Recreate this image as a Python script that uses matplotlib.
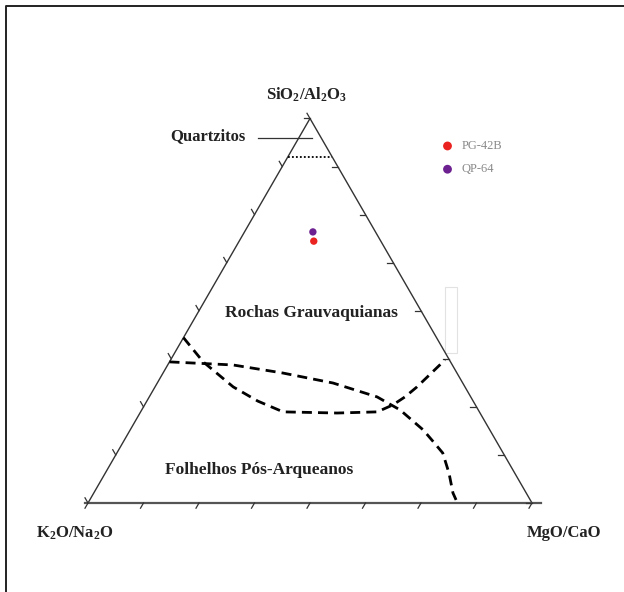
import numpy as np
import matplotlib.pyplot as plt
from matplotlib.lines import Line2D
from matplotlib.patches import Rectangle

plt.rcParams['font.family'] = ['Liberation Serif', 'DejaVu Serif']
plt.rcParams['mathtext.fontset'] = 'custom'
plt.rcParams['mathtext.rm'] = 'Liberation Serif:bold'
plt.rcParams['mathtext.default'] = 'rm'

# Samples (fractions of the top apex SiO2/Al2O3 and right apex MgO/CaO)
samples = ['PG-42B', 'QP-64']
sio2_al2o3 = [0.681, 0.705]
mgo_cao = [0.168, 0.154]
colors = ['#ea2320', '#6d2190']

# Field boundaries (top fraction, right fraction)
bound1_top = [0.430, 0.367, 0.302, 0.265, 0.237, 0.234, 0.237, 0.255, 0.276, 0.302, 0.372]
bound1_right = [0.000, 0.076, 0.176, 0.250, 0.321, 0.444, 0.533, 0.559, 0.576, 0.590, 0.618]
bound2_top = [0.367, 0.359, 0.338, 0.312, 0.276, 0.242, 0.190, 0.161, 0.130, 0.078, 0.026, 0.008]
bound2_right = [0.000, 0.147, 0.270, 0.396, 0.513, 0.582, 0.660, 0.696, 0.734, 0.774, 0.809, 0.825]
quartzite_limit = 0.90
n_ticks = 8

H = np.sqrt(3) / 2


def tern(top, right):
    top = np.asarray(top, dtype=float)
    right = np.asarray(right, dtype=float)
    return right + top / 2, top * H


def px(x, y):
    # pixel position of the reference picture -> triangle units
    return (x - 88) / 444, (503 - y) / 444


fig = plt.figure(figsize=(6.24, 5.92), dpi=100)
ax = fig.add_axes([0, 0, 1, 1])
ax.set_xlim(-88 / 444, 536 / 444)
ax.set_ylim(-89 / 444, 503 / 444)
ax.axis('off')

# page frame (top and left)
fig.add_artist(Line2D([5.5 / 624, 5.5 / 624, 1], [0, 1 - 5.5 / 592, 1 - 5.5 / 592],
                      transform=fig.transFigure, color='#222222', lw=1.4))

# triangle
tx, ty = tern([0, 1, 0, 0], [0, 0, 1, 0])
ax.plot(tx, ty, color='#333333', lw=1.0)
ax.plot([-0.006, 1.02], [0, 0], color='#555555', lw=1.6)

# ticks
t = 6 / 444
for k in range(n_ticks + 1):
    f = k / n_ticks
    x, y = tern(0, f)
    ax.plot([x, x - 0.5 * t], [y, y - H * t], color='#333333', lw=0.9)
    x, y = tern(f, 0)
    ax.plot([x, x - 0.5 * t], [y, y + H * t], color='#333333', lw=0.9)
    x, y = tern(f, 1 - f)
    ax.plot([x, x - t], [y, y], color='#333333', lw=0.9)

# quartzite limit
qx, qy = tern([quartzite_limit, quartzite_limit], [0, 1 - quartzite_limit])
ax.plot(qx, qy, color='black', lw=1.3, linestyle=(0, (1, 1.2)))

# boundaries
bx, by = tern(bound1_top, bound1_right)
ax.plot(bx, by, color='black', lw=2.0, dashes=(3.6, 2.2))
bx, by = tern(bound2_top, bound2_right)
ax.plot(bx, by, color='black', lw=2.0, dashes=(3.6, 2.2))

# faint box
x0, y0 = px(445, 353)
x1, y1 = px(457, 287)
ax.add_patch(Rectangle((x0, y0), x1 - x0, y1 - y0, fill=False,
                       edgecolor='#e2e2e2', lw=0.8))

# samples
sx, sy = tern(sio2_al2o3, mgo_cao)
for i in range(len(samples)):
    ax.scatter(sx[i], sy[i], s=28, color=colors[i], label=samples[i],
               edgecolors='none', zorder=5)

ax.legend(loc='upper left', bbox_to_anchor=(435 / 624, 1 - 134 / 592),
          bbox_transform=fig.transFigure, frameon=False, fontsize=9,
          labelcolor='#8a8a8a', handlelength=1.0, handletextpad=0.6,
          borderpad=0, labelspacing=0.9, scatterpoints=1, markerscale=1.2)

# labels
bold = dict(fontweight='bold', color='#222222')
ax.text(*px(307, 95), r'SiO$_2$/Al$_2$O$_3$', ha='center', va='center', fontsize=12, **bold)
ax.text(*px(75, 533), r'K$_2$O/Na$_2$O', ha='center', va='center', fontsize=12, **bold)
ax.text(*px(564, 533), 'MgO/CaO', ha='center', va='center', fontsize=12, **bold)
ax.text(*px(208, 136), 'Quartzitos', ha='center', va='center', fontsize=12, **bold)
ax.plot(*zip(px(258, 138), px(312, 138)), color='#333333', lw=0.9)
ax.text(*px(311, 313), 'Rochas Grauvaquianas', ha='center', va='center', fontsize=12.5, **bold)
ax.text(*px(259, 470), 'Folhelhos Pós-Arqueanos', ha='center', va='center', fontsize=12.5, **bold)

fig.savefig('out.png', dpi=100)
